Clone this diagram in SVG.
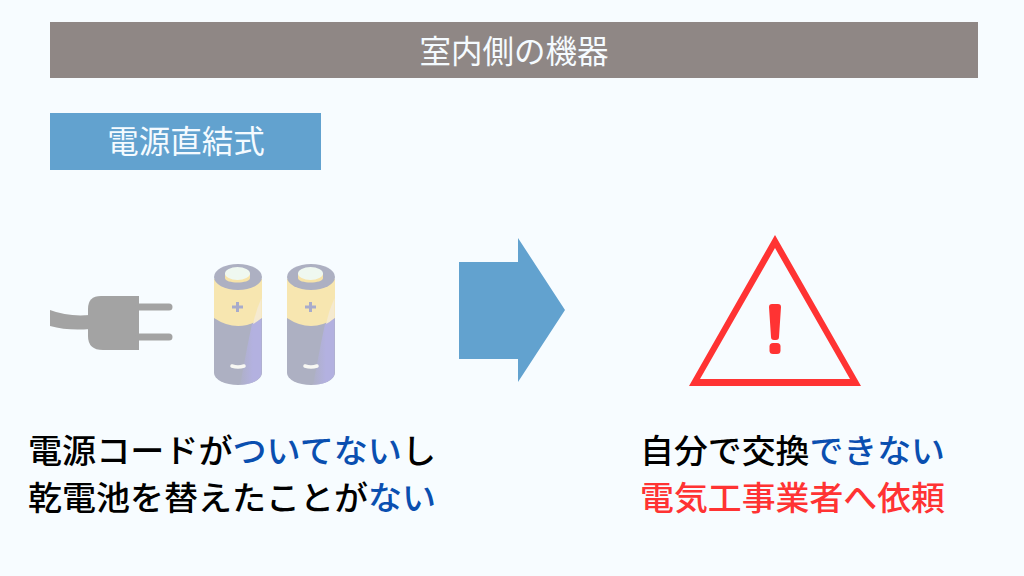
<svg xmlns="http://www.w3.org/2000/svg" width="1024" height="576" viewBox="0 0 1024 576">
<style>
text{font-family:"Noto Sans CJK JP","Noto Sans",sans-serif}
.lt{fill:#f5fbff;font-size:31.500px;text-anchor:middle}
.b{font-size:32.500px;font-weight:500;fill:#000}
.bl{fill:#0a4fb0}.rd{fill:#ff3333}
.lab{fill:#adb0c2}.yel{fill:#f7e6b0}.sh{fill:#b3b1e0}.pl{fill:none;stroke:#a8abcb;stroke-width:3}
</style>
<defs>
<linearGradient id="shade" x1="0" y1="0" x2="1" y2="0"><stop offset="0" stop-color="#b3b1e0" stop-opacity=".15"/><stop offset=".6" stop-color="#b3b1e0"/></linearGradient>
<g id="batt">
<path class="lab" d="M0 15V109A24 12 0 0 0 48 109V15Z"/>
<path class="yel" d="M0 15V54Q24 70 48 54V15Z"/>
<path d="M47.500 54V109C47.500 116 36 121 26 121C30 100 34 78 38 60Q43 58 47.500 54Z" fill="url(#shade)"/>
<path d="M47.500 34V54Q43 58 39 60Q42 46 47.500 34Z" fill="#f5ead0"/>
<ellipse class="lab" cx="24" cy="13" rx="24" ry="13"/>
<path d="M11 9V14C11 20 36 20 36 14V9Z" fill="#f7e3a8"/>
<ellipse cx="23.500" cy="9.500" rx="12.500" ry="6.500" fill="#eff8f0"/>
<path class="pl" d="M18 43H29M23.500 38V48"/>
<path d="M18 102Q24 104 30 102" fill="none" stroke="#f8f8f4" stroke-width="3.500" stroke-linecap="round"/>
</g>
</defs>
<rect width="1024" height="576" fill="#f7fcff"/>
<g id="header"><rect x="50" y="22" width="928" height="56" fill="#8f8785"/><text class="lt" x="514" y="63">室内側の機器</text></g>
<g id="type-label"><rect x="50" y="113" width="271" height="57" fill="#62a2cf"/><text class="lt" x="186" y="153">電源直結式</text></g>
<g id="plug">
<path d="M50 310Q68 317 90 315V329Q68 331 50 326Z" fill="#a3a3a3"/>
<path d="M101 296H139V350H103Q88 350 88 336V309Q88 296 101 296Z" fill="#a3a3a3"/>
<path d="M139 307H169M139 337H169" stroke="#a3a3a3" stroke-width="7" stroke-linecap="round"/>
</g>
<g id="battery-1"><use href="#batt" x="214" y="264"/></g>
<g id="battery-2"><use href="#batt" x="287" y="264"/></g>
<g id="connectors"><path d="M459 262H518V238L565 310L518 382V359H459Z" fill="#62a2cf"/></g>
<g id="warning">
<path d="M775 235L861 386H689ZM775 248L700 379H850Z" fill="#ff3333" fill-rule="evenodd"/>
<path d="M769 307Q769 304 772 304H778Q781 304 781 307L779 337Q779 340 776 340H774Q771 340 771 337Z" fill="#ff3333"/>
<rect x="769.500" y="343" width="11" height="11" rx="3.500" fill="#ff3333"/>
</g>
<g id="caption-left">
<text class="b" x="28" y="463" textLength="408" lengthAdjust="spacingAndGlyphs">電源コードが<tspan class="bl">ついてない</tspan>し</text>
<text class="b" x="28" y="510" textLength="408" lengthAdjust="spacingAndGlyphs">乾電池を替えたことが<tspan class="bl">ない</tspan></text>
</g>
<g id="caption-right">
<text class="b" x="640" y="463" textLength="305" lengthAdjust="spacingAndGlyphs">自分で交換<tspan class="bl">できない</tspan></text>
<text class="b rd" x="640" y="510" textLength="305" lengthAdjust="spacingAndGlyphs">電気工事業者へ依頼</text>
</g>
</svg>
